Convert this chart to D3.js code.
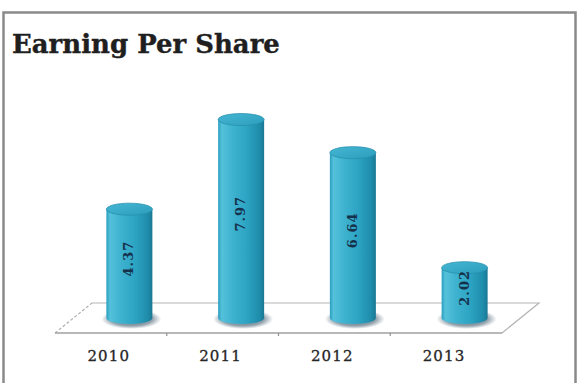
<!DOCTYPE html>
<html>
<head>
<meta charset="utf-8">
<script src="https://cdn.jsdelivr.net/npm/d3@7"></script>
<style>
  html, body { margin: 0; padding: 0; background: #fff; }
  svg { display: block; }
</style>
</head>
<body>
<svg id="chart" width="579" height="383"></svg>
<script>
// Earning per share by year
const categories = ["2010", "2011", "2012", "2013"];
const values = [4.37, 7.97, 6.64, 2.02];
const valueLabels = ["4.37", "7.97", "6.64", "2.02"];
const titleText = "Earning Per Share";

const W = 579, H = 383;
const svg = d3.select("#chart");

// floor geometry (front edge and depth offset)
const front = { x0: 55, x1: 502, y: 333 };
const depth = { dx: 37, dy: -30 };
const baseY = front.y + depth.dy / 2;

const x = d3.scaleBand().domain(categories).range([front.x0, front.x1]);
const y = d3.scaleLinear().domain([0, 8]).range([baseY, baseY - 8 * 24.9]);

const defs = svg.append("defs");
const bodyGrad = defs.append("linearGradient").attr("id", "cylBody")
  .attr("x1", "0%").attr("x2", "100%").attr("y1", "0%").attr("y2", "0%");
[[0, "#2a9fbf"], [0.08, "#55c1db"], [0.3, "#3fb3d0"], [0.6, "#2ea5c4"], [0.9, "#1f8cab"], [1, "#1a7894"]]
  .forEach(([o, c]) => bodyGrad.append("stop").attr("offset", o).attr("stop-color", c));
const topGrad = defs.append("linearGradient").attr("id", "cylTop")
  .attr("x1", "0%").attr("x2", "100%").attr("y1", "0%").attr("y2", "100%");
[[0, "#45b7d3"], [1, "#2c9ebd"]]
  .forEach(([o, c]) => topGrad.append("stop").attr("offset", o).attr("stop-color", c));
const shadowGrad = defs.append("radialGradient").attr("id", "cylShadow");
[[0, "rgba(30,60,80,0.75)"], [0.7, "rgba(40,70,90,0.5)"], [1, "rgba(60,90,110,0)"]]
  .forEach(([o, c]) => shadowGrad.append("stop").attr("offset", o).attr("stop-color", c));

svg.append("rect").attr("width", W).attr("height", H).attr("fill", "#fff");

// frame
svg.append("rect")
  .attr("x", 3.5).attr("y", 12.5).attr("width", 572).attr("height", 380)
  .attr("fill", "none").attr("stroke", "#8a8a8a").attr("stroke-width", 2.5);

// title
const title = svg.append("text")
  .attr("x", 12).attr("y", 53)
  .attr("font-family", "'DejaVu Serif', Georgia, serif")
  .attr("font-weight", "bold")
  .attr("font-size", 22)
  .attr("fill", "#1f1f1f")
  .attr("stroke", "#1f1f1f").attr("stroke-width", 0.4)
  .text(titleText);
const tw = title.node().getComputedTextLength();
title.attr("font-size", 22 * 268 / tw);

// floor
const floorPts = [
  [front.x0, front.y], [front.x1, front.y],
  [front.x1 + depth.dx, front.y + depth.dy], [front.x0 + depth.dx, front.y + depth.dy]
];
svg.append("path")
  .attr("d", d3.line()([floorPts[3], floorPts[2], floorPts[1]]))
  .attr("fill", "none").attr("stroke", "#b5b5b5").attr("stroke-width", 1.2);
svg.append("line")
  .attr("x1", floorPts[0][0]).attr("y1", floorPts[0][1])
  .attr("x2", floorPts[3][0]).attr("y2", floorPts[3][1])
  .attr("stroke", "#b0b0b0").attr("stroke-width", 1.2).attr("stroke-dasharray", "3,2");
svg.append("line")
  .attr("x1", front.x0).attr("y1", front.y).attr("x2", front.x1).attr("y2", front.y)
  .attr("stroke", "#a0a0a0").attr("stroke-width", 1.3);

// category ticks on front edge
svg.selectAll(".tick")
  .data(categories.slice(1))
  .join("line")
  .attr("x1", d => x(d)).attr("x2", d => x(d))
  .attr("y1", front.y).attr("y2", front.y + 3)
  .attr("stroke", "#909090").attr("stroke-width", 1.2);

// category labels
svg.selectAll(".cat")
  .data(categories)
  .join("text")
  .attr("x", d => x(d) + x.bandwidth() / 2 - 2)
  .attr("y", 361)
  .attr("text-anchor", "middle")
  .attr("font-family", "'DejaVu Serif', Georgia, serif")
  .attr("font-size", 15)
  .attr("letter-spacing", 1.2)
  .attr("fill", "#262626")
  .attr("stroke", "#262626").attr("stroke-width", 0.3)
  .text(d => d);

// cylinders
const rx = 23, ry = 6;
const bars = svg.selectAll(".bar")
  .data(categories.map((c, i) => ({ c, v: values[i], label: valueLabels[i] })))
  .join("g")
  .attr("transform", d => `translate(${x(d.c) + x.bandwidth() / 2 + depth.dx / 2},0)`);

bars.append("ellipse")
  .attr("cx", 2).attr("cy", y(0) + 1)
  .attr("rx", rx + 7).attr("ry", ry + 4)
  .attr("fill", "url(#cylShadow)");

bars.append("path")
  .attr("d", d => {
    const t = y(d.v), b = y(0);
    return `M${-rx},${t} L${-rx},${b} A${rx},${ry} 0 0 0 ${rx},${b} L${rx},${t} Z`;
  })
  .attr("fill", "url(#cylBody)");

bars.append("ellipse")
  .attr("cx", 0).attr("cy", d => y(d.v))
  .attr("rx", rx).attr("ry", ry)
  .attr("fill", "url(#cylTop)")
  .attr("stroke", "#2790ae").attr("stroke-width", 0.8);

bars.append("text")
  .attr("transform", d => `translate(4,${(y(d.v) + y(0)) / 2 - 5}) rotate(-90)`)
  .attr("text-anchor", "middle")
  .attr("font-family", "'DejaVu Serif', Georgia, serif")
  .attr("font-size", 13)
  .attr("font-weight", "bold")
  .attr("letter-spacing", 1)
  .attr("fill", "#15324d")
  .text(d => d.label);
</script>
</body>
</html>
